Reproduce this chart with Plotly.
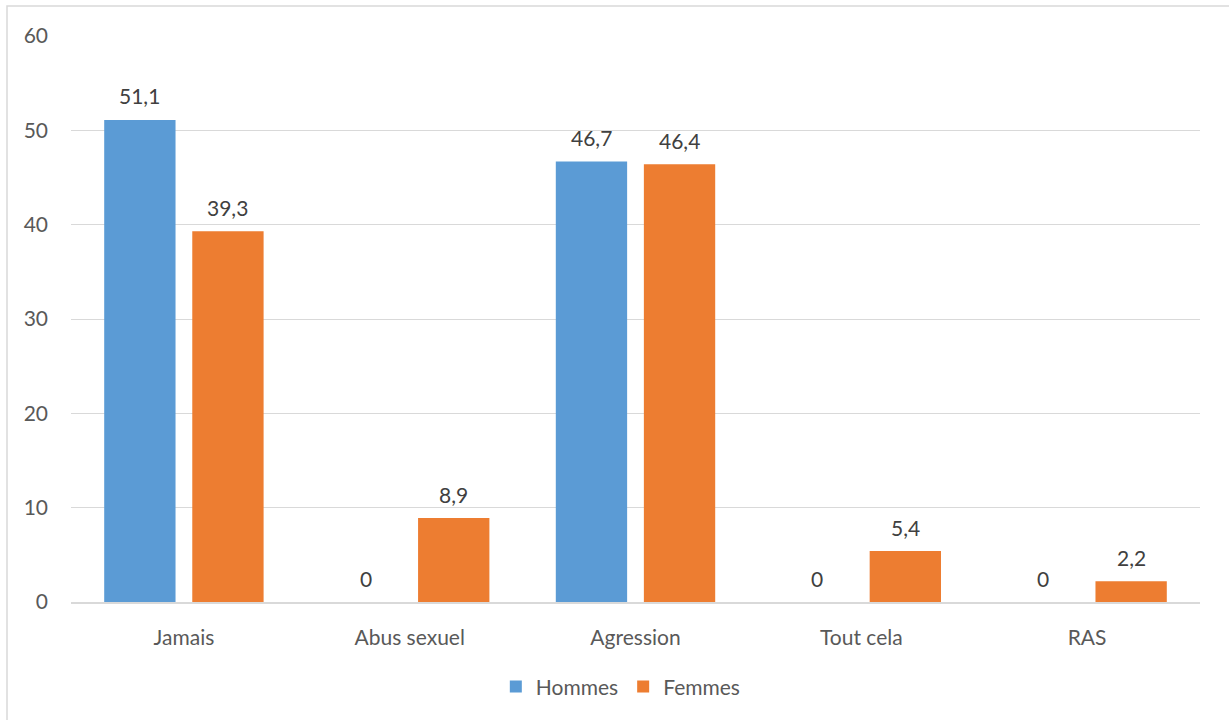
import plotly.graph_objects as go

# Données du graphique
categories = ["Jamais", "Abus sexuel", "Agression", "Tout cela", "RAS"]
hommes = [51.1, 0, 46.7, 0, 0]
femmes = [39.3, 8.9, 46.4, 5.4, 2.2]
y_ticks = [0, 10, 20, 30, 40, 50, 60]

FONT = "Lato, 'Open Sans', sans-serif"
W, H = 1229, 720
ML, MR, MT, MB = 71, 29, 36, 118
BARGAP, GROUPGAP = 0.22, 0.19


def fmt(v):
    s = f"{v:.1f}".replace(".", ",")
    return s[:-2] if s.endswith(",0") else s


fig = go.Figure()
fig.add_trace(go.Bar(
    name="Hommes", x=categories, y=hommes,
    marker=dict(color="#5B9BD5", line=dict(width=0)),
))
fig.add_trace(go.Bar(
    name="Femmes", x=categories, y=femmes,
    marker=dict(color="#ED7D31", line=dict(width=0)),
))

# Étiquettes de valeur au-dessus de chaque barre
slot = (1 - BARGAP) / 2
for series, sign in ((hommes, -1), (femmes, 1)):
    for i, v in enumerate(series):
        fig.add_annotation(
            x=i + sign * slot / 2, y=v, xref="x", yref="y",
            text=fmt(v), showarrow=False, yshift=24, yanchor="middle",
            font=dict(size=21, color="#404040", family=FONT),
        )

pw = W - ML - MR
ph = H - MT - MB
# Cadre extérieur du graphique
fig.add_shape(
    type="rect", xref="paper", yref="paper",
    x0=(7 - ML) / pw, x1=(W + 20 - ML) / pw,
    y0=-(MB + 20) / ph, y1=1 + (MT - 6) / ph,
    line=dict(color="#D9D9D9", width=1.5), fillcolor="rgba(0,0,0,0)",
    layer="below",
)

fig.update_layout(
    width=W, height=H,
    margin=dict(l=ML, r=MR, t=MT, b=MB),
    paper_bgcolor="white", plot_bgcolor="white",
    barmode="group", bargap=BARGAP, bargroupgap=GROUPGAP,
    font=dict(family=FONT, color="#595959", size=21),
    showlegend=True,
    legend=dict(
        orientation="h", x=0.487, xanchor="center", y=-0.15, yanchor="middle",
        font=dict(size=21, color="#595959", family=FONT),
        itemwidth=30, traceorder="normal",
    ),
    xaxis=dict(
        showgrid=False, showline=True, linecolor="#D9D9D9", linewidth=1.5,
        ticks="", tickfont=dict(size=21, color="#595959"), ticklabelstandoff=16,
    ),
    yaxis=dict(
        range=[0, 60], tickvals=y_ticks, showgrid=True, gridcolor="#D9D9D9",
        gridwidth=1, zeroline=False, showline=False, ticks="",
        tickfont=dict(size=21, color="#595959"), ticklabelstandoff=22,
    ),
)

fig.write_html("out.html")
